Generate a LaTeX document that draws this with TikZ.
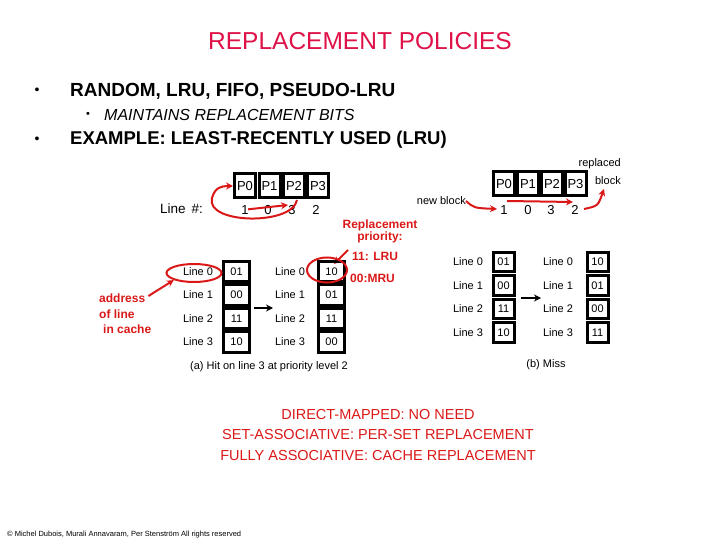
\documentclass[tikz,border=0pt]{standalone}
\usepackage{fontspec}
\setmainfont{Liberation Sans}
\usetikzlibrary{arrows.meta,shapes.geometric}
\definecolor{titlered}{RGB}{222,18,72}
\definecolor{annred}{RGB}{218,24,24}
\begin{document}
\begin{tikzpicture}[x=1pt,y=-1pt,
  pcell/.style={draw, line width=3pt, minimum width=21pt, minimum height=24pt, inner sep=0pt, font=\fontsize{13}{15}\selectfont},
  acell/.style={draw, line width=3pt, minimum width=26pt, minimum height=20.5pt, inner sep=0pt, font=\fontsize{11}{13}\selectfont},
  bcell/.style={draw, line width=3pt, minimum width=21pt, minimum height=19.5pt, inner sep=0pt, font=\fontsize{11}{13}\selectfont},
  lbl/.style={font=\fontsize{11}{13}\selectfont, inner sep=0pt},
  num/.style={font=\fontsize{13}{15}\selectfont, inner sep=0pt},
  ann/.style={text=annred, font=\bfseries\fontsize{12}{14}\selectfont, inner sep=0pt, align=center},
  bot/.style={text=annred, font=\fontsize{14.5}{16}\selectfont, inner sep=0pt},
  redarrow/.style={draw=annred, line width=2pt, -{Stealth[length=7pt,width=7pt]}},
  blackarrow/.style={draw=black, line width=2pt, -{Stealth[length=7pt,width=7pt]}},
  redring/.style={draw=annred, line width=2pt, ellipse, inner sep=0pt}
]
\useasboundingbox (0,0) rectangle (720,540);

% title and bullets
\node[text=titlered, font=\fontsize{24.5}{28}\selectfont] (title) at (360,41) {REPLACEMENT POLICIES};
\node[font=\fontsize{14}{16}\selectfont] (b1) at (37,91) {•};
\node[anchor=west, font=\bfseries\fontsize{19}{22}\selectfont, inner sep=0pt] (t1) at (70,91) {RANDOM, LRU, FIFO, PSEUDO-LRU};
\node[font=\fontsize{11}{13}\selectfont] (b2) at (88,115) {•};
\node[anchor=west, font=\itshape\fontsize{16}{18}\selectfont, inner sep=0pt] (t2) at (104,115) {MAINTAINS REPLACEMENT BITS};
\node[font=\fontsize{14}{16}\selectfont] (b3) at (37,140) {•};
\node[anchor=west, font=\bfseries\fontsize{18.5}{21}\selectfont, inner sep=0pt] (t3) at (70,140) {EXAMPLE: LEAST-RECENTLY USED (LRU)};

% top-left priority box
\node[pcell] (lp0) at (245,186) {P0};
\node[pcell] (lp1) at (269.5,186) {P1};
\node[pcell] (lp2) at (294,186) {P2};
\node[pcell] (lp3) at (318,186) {P3};
\node[anchor=west, font=\fontsize{13.5}{15}\selectfont, inner sep=0pt] (linenum) at (160,209) {Line \,\#:};
\node[num] (ln1) at (245,210) {1};
\node[num] (ln0) at (268,210) {0};
\node[num] (ln3) at (292,210) {3};
\node[num] (ln2) at (316,210) {2};
\draw[redarrow] (ln1.north) ++(3,4) coordinate (la) -- (288,205) coordinate (lb);
\draw[redarrow] (297,200) .. controls (292,226) and (205,224) .. (212,198) .. controls (215,187) and (222,186) .. (lp0.west);

% top-right priority box
\node[pcell] (rp0) at (504,184) {P0};
\node[pcell] (rp1) at (528,184) {P1};
\node[pcell] (rp2) at (552,184) {P2};
\node[pcell] (rp3) at (575.5,184) {P3};
\node[num] (rn1) at (504,210) {1};
\node[num] (rn0) at (528,210) {0};
\node[num] (rn3) at (551,210) {3};
\node[num] (rn2) at (575,210) {2};
\node[anchor=east, font=\fontsize{11}{13}\selectfont, inner sep=0pt] (newblock) at (466,201) {new block};
\node[anchor=east, font=\fontsize{11}{13}\selectfont, inner sep=0pt] (replaced) at (621,164) {replaced};
\node[anchor=east, font=\fontsize{11}{13}\selectfont, inner sep=0pt] (blk) at (621,181) {block};
\draw[redarrow] (newblock.east) .. controls (474,208) .. (497,209);
\draw[redarrow] (507,201) -- (573,202);
\draw[redarrow] (584,209) .. controls (598,206) .. (604,189);

% replacement priority annotation
\node[ann] (rprio) at (380,231) {Replacement\\[-2pt]priority:};
\node[ann, anchor=west] (lru) at (352,256) {11: LRU};
\node[ann, anchor=west] (mru) at (350,278) {00:MRU};
\draw[redarrow] (348,250) -- (334,264);

% address annotation
\node[ann, anchor=west] (addr1) at (99,298) {address};
\node[ann, anchor=west] (addr2) at (99,314) {of line};
\node[ann, anchor=west] (addr3) at (103,329) {in cache};

% table (a) left
\foreach \i/\v/\y in {0/01/271.25,1/00/294.75,2/11/318.25,3/10/341.75}{
  \node[acell] (al\i) at (236.5,\y) {\v};
  \node[lbl] (all\i) at (198,\y) {Line \i};
}
% table (a) right
\foreach \i/\v/\y in {0/10/271.25,1/01/294.75,2/11/318.25,3/00/341.75}{
  \node[acell] (ar\i) at (331.5,\y) {\v};
  \node[lbl] (arl\i) at (290,\y) {Line \i};
}
\node[redring, minimum width=55pt, minimum height=18pt] (ring1) at (194,273) {};
\node[redring, minimum width=40pt, minimum height=25pt] (ring2) at (327,270) {};
\draw[redarrow] (addr1.east) ++(3,-2) -- (ring1.south west);
\draw[blackarrow] (al1.east |- 0,308) ++(3,0) coordinate (aa) -- (273,308) coordinate (ab);
\node[lbl] (capa) at (269,367) {(a) Hit on line 3 at priority level 2};

% table (b) left
\foreach \i/\v/\y in {0/01/262,1/00/285.5,2/11/309,3/10/332.5}{
  \node[bcell] (bl\i) at (503.5,\y) {\v};
  \node[lbl] (bll\i) at (468,\y) {Line \i};
}
% table (b) right
\foreach \i/\v/\y in {0/10/262,1/01/285.5,2/00/309,3/11/332.5}{
  \node[bcell] (br\i) at (597.5,\y) {\v};
  \node[lbl] (brl\i) at (558,\y) {Line \i};
}
\draw[blackarrow] (521,298) coordinate (ba) -- (541,298) coordinate (bb);
\node[lbl] (capb) at (546,365) {(b) Miss};

% bottom text
\node[bot] (d1) at (378,415) {DIRECT-MAPPED: NO NEED};
\node[bot] (d2) at (378,435) {SET-ASSOCIATIVE: PER-SET REPLACEMENT};
\node[bot] (d3) at (378,456) {FULLY ASSOCIATIVE: CACHE REPLACEMENT};

% footer
\node[anchor=west, font=\fontsize{7.5}{8}\selectfont, inner sep=0pt] (foot) at (7,535) {© Michel Dubois, Murali Annavaram, Per Stenström All rights reserved};
\end{tikzpicture}
\end{document}
